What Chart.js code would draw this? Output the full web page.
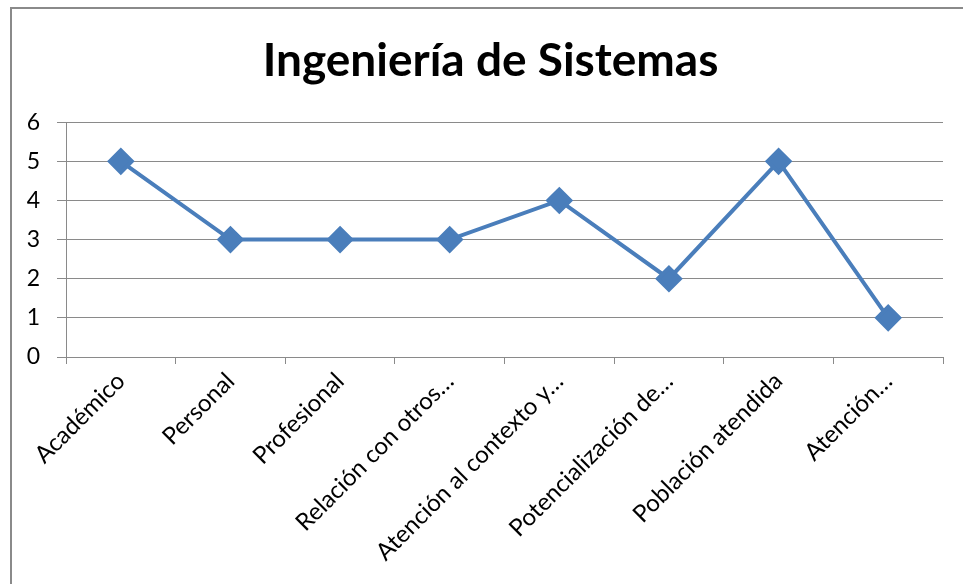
<!DOCTYPE html>
<html>
<head>
<meta charset="utf-8">
<script src="https://cdn.jsdelivr.net/npm/chart.js@4"></script>
<style>
  body { margin: 0; background: #fff; }
  #wrap { position: relative; width: 963px; height: 584px; overflow: hidden; }
  #frame { position: absolute; left: 10px; top: 7px; width: 1000px; height: 700px; border: 2px solid #8a8a8a; }
  canvas { position: absolute; left: 0; top: 0; }
</style>
</head>
<body>
<div id="wrap">
  <div id="frame"></div>
  <canvas id="myCanvas" width="963" height="584"></canvas>
</div>
<script>
let categorias = [
  "Académico",
  "Personal",
  "Profesional",
  "Relación con otros…",
  "Atención al contexto y…",
  "Potencialización de…",
  "Población atendida",
  "Atención…",
];
let valores = [5, 3, 3, 3, 4, 2, 5, 1];
let ticksY = [0, 1, 2, 3, 4, 5, 6];

// sposta il titolo un po' a destra, come nell'originale
let spostaTitolo = {
  id: "spostaTitolo",
  afterLayout: function (chart) {
    if (chart.titleBlock) {
      chart.titleBlock.left = 38;
    }
  },
};

let ctx = document.getElementById("myCanvas").getContext("2d");
let chart = new Chart(ctx, {
  type: "line",
  data: {
    labels: categorias,
    datasets: [
      {
        label: "Ingeniería de Sistemas",
        data: valores,
        borderColor: "#4A7EBB",
        backgroundColor: "#4A7EBB",
        borderWidth: 4,
        pointStyle: "rectRot",
        pointRadius: 11,
        pointHoverRadius: 11,
        tension: 0,
      },
    ],
  },
  plugins: [spostaTitolo],
  options: {
    responsive: false,
    animation: false,
    layout: { padding: { left: 0, right: 20, top: 0, bottom: 0 } },
    plugins: {
      legend: { display: false },
      tooltip: { enabled: false },
      title: {
        display: true,
        text: "Ingeniería de Sistemas",
        color: "#000",
        font: { family: "Lato", size: 46, weight: "bold" },
        padding: { top: 34, bottom: 33 },
      },
    },
    scales: {
      x: {
        offset: true,
        afterFit: function (scale) {
          scale.height = 584 - 357;
        },
        grid: {
          offset: true,
          drawOnChartArea: false,
          drawTicks: true,
          tickLength: 7,
          color: "#8a8a8a",
        },
        border: { display: true, color: "#8a8a8a" },
        ticks: {
          autoSkip: false,
          maxRotation: 45,
          minRotation: 45,
          color: "#000",
          font: { family: "Lato", size: 24 },
          padding: 3,
        },
      },
      y: {
        min: 0,
        max: 6,
        afterFit: function (scale) {
          scale.width = 66;
        },
        afterBuildTicks: function (scale) {
          scale.ticks = ticksY.map((v) => ({ value: v }));
        },
        grid: {
          color: "#8a8a8a",
          tickLength: 9,
        },
        border: { display: true, color: "#8a8a8a" },
        ticks: {
          color: "#000",
          font: { family: "Lato", size: 23 },
          padding: 17,
        },
      },
    },
  },
});
</script>
</body>
</html>
